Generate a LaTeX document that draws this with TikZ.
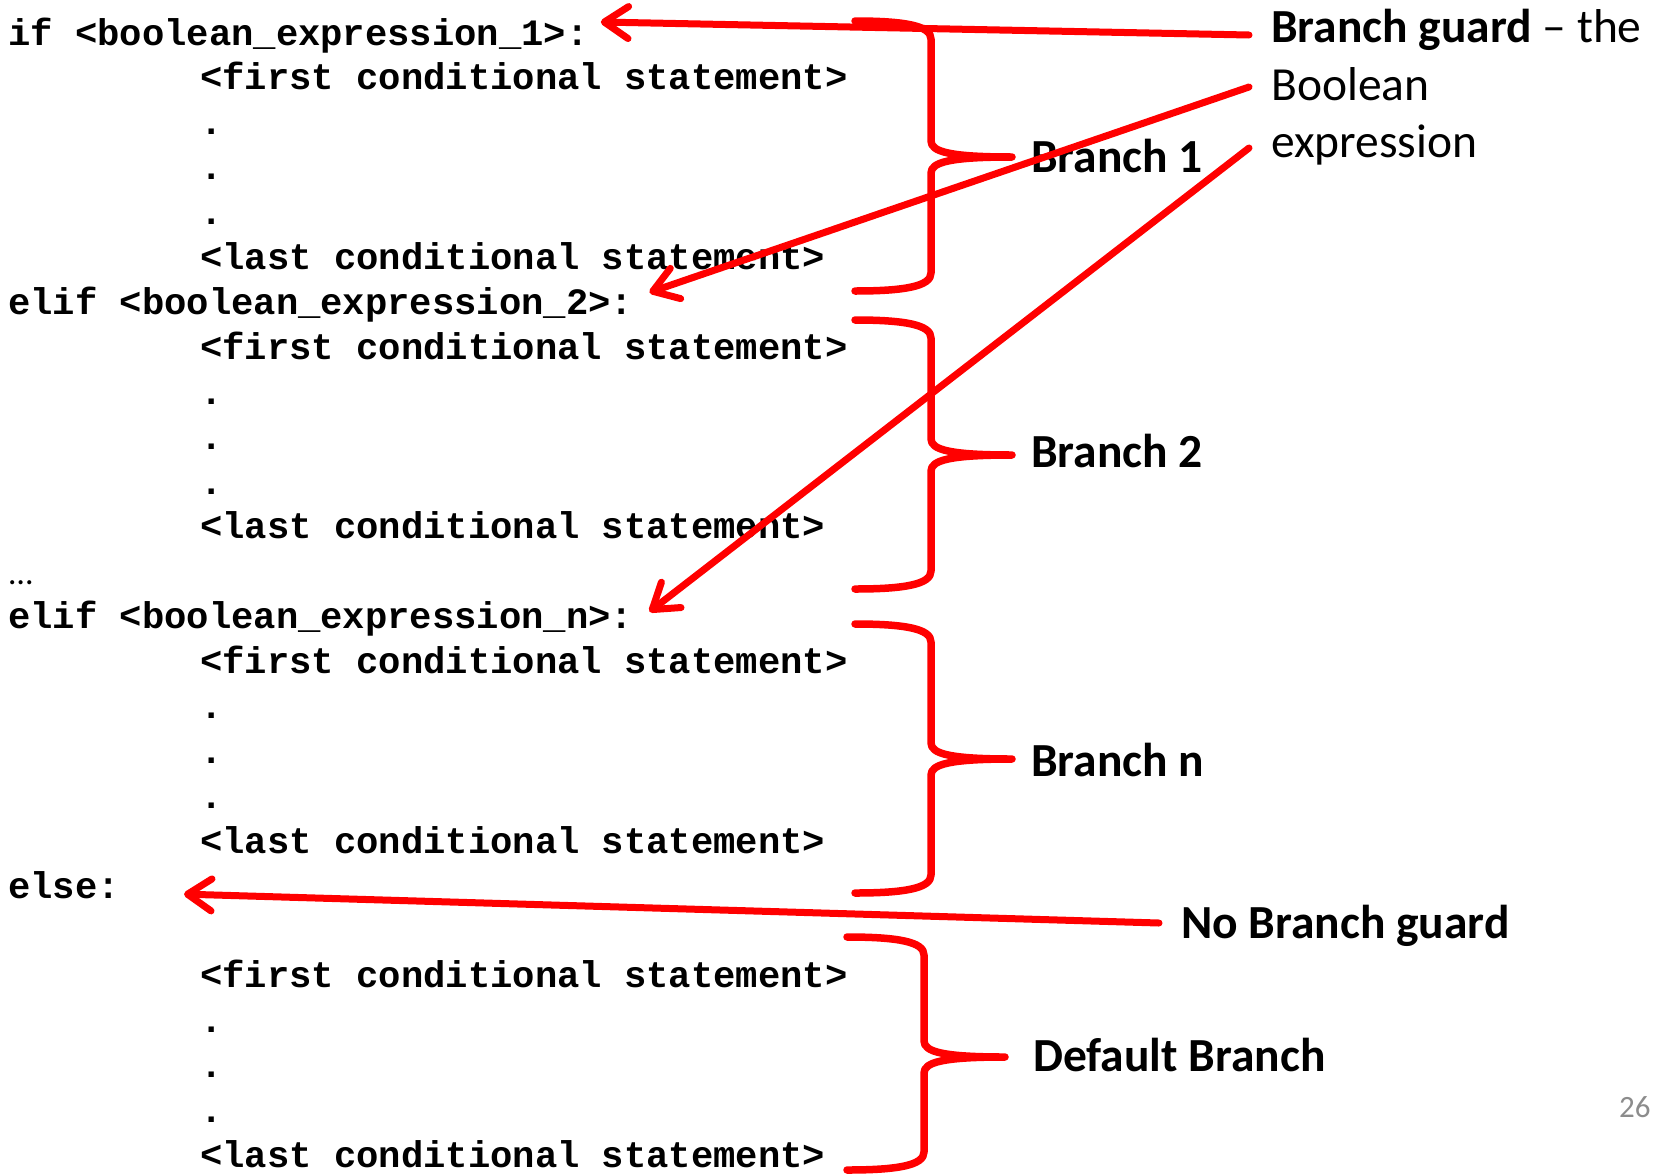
\documentclass[tikz,border=0pt]{standalone}
\usepackage{fontspec}
\usetikzlibrary{arrows.meta,calc}
\newfontfamily\codefont{Liberation Mono}
\newfontfamily\labfont{Carlito}
\definecolor{pagegray}{HTML}{8C8C8C}
\tikzset{
  x=1pt, y=-1pt,
  code/.style={anchor=base west, inner sep=0pt, font=\codefont\bfseries\fontsize{37.2}{40}\selectfont},
  lab/.style={anchor=base west, inner sep=0pt, font=\labfont\fontsize{47.5}{50}\selectfont},
  bracestroke/.style={draw=red, line width=7.5pt, line cap=round, line join=round},
  arr/.style={draw=red, line width=7pt, line cap=round, -{Straight Barb[length=24pt,width=32pt,round]}},
}
\newcommand\redbrace[6]{% xl xs xt yt ym yb
  \draw[bracestroke] (#1,#4) .. controls ({#2-25},#4) and (#2,{#4+5}) .. (#2,{#4+18})
    -- (#2,{#5-16}) .. controls (#2,{#5-5}) and ({#2+20},#5) .. (#3,#5)
    .. controls ({#2+20},#5) and (#2,{#5+5}) .. (#2,{#5+16})
    -- (#2,{#6-18}) .. controls (#2,{#6-5}) and ({#2-25},#6) .. (#1,#6);}
\begin{document}
\begin{tikzpicture}
\useasboundingbox (0,0) rectangle (1659,1173);
% code lines
\node[code] (if1)   at (8,45)       {if <boolean\_expression\_1>:};
\node[code] (f1)    at (200,89.9)   {<first conditional statement>};
\node[code] (d1a)   at (200,134.8)  {.};
\node[code] (d1b)   at (200,179.7)  {.};
\node[code] (d1c)   at (200,224.6)  {.};
\node[code] (last1) at (200,269.5)  {<last conditional statement>};
\node[code] (elif2) at (8,314.4)    {elif <boolean\_expression\_2>:};
\node[code] (f2)    at (200,359.3)  {<first conditional statement>};
\node[code] (d2a)   at (200,404.2)  {.};
\node[code] (d2b)   at (200,449.1)  {.};
\node[code] (d2c)   at (200,494)    {.};
\node[code] (last2) at (200,538.9)  {<last conditional statement>};
\node[anchor=base west, inner sep=0pt, font=\labfont\fontsize{34}{36}\selectfont] (ell) at (9,584) {…};
\node[code] (elifn) at (8,628.7)    {elif <boolean\_expression\_n>:};
\node[code] (fn)    at (200,673.6)  {<first conditional statement>};
\node[code] (dna)   at (200,718.5)  {.};
\node[code] (dnb)   at (200,763.4)  {.};
\node[code] (dnc)   at (200,808.3)  {.};
\node[code] (lastn) at (200,853.2)  {<last conditional statement>};
\node[code] (else)  at (8,898.1)    {else:};
\node[code] (fd)    at (200,987.9)  {<first conditional statement>};
\node[code] (dda)   at (200,1032.8) {.};
\node[code] (ddb)   at (200,1077.7) {.};
\node[code] (ddc)   at (200,1122.6) {.};
\node[code] (lastd) at (200,1167.5) {<last conditional statement>};
% braces
\redbrace{855}{931}{1012}{21}{157}{291}
\redbrace{855}{931}{1012}{320}{455}{589}
\redbrace{855}{931}{1012}{624}{759}{893}
\redbrace{847}{924}{1005}{937}{1057}{1170}
% labels
\node[lab] (b1) at (1031,172)  {\bfseries Branch 1};
\node[lab] (b2) at (1031,467)  {\bfseries Branch 2};
\node[lab] (bn) at (1031,776)  {\bfseries Branch n};
\node[lab] (bd) at (1033,1071) {\bfseries Default Branch};
\node[lab] (guard) at (1271,42)  {\textbf{Branch guard} – the};
\node[lab] (bool)  at (1271,100) {Boolean};
\node[lab] (expr)  at (1271,157) {expression};
\node[lab] (nog)   at (1181,938) {\bfseries No Branch guard};
\node[anchor=base west, inner sep=0pt, text=pagegray, font=\labfont\fontsize{31}{33}\selectfont] (pg) at (1619,1117) {26};
% arrows
\draw[arr] ($(guard.base west)+(-22,-7)$) -- ($(if1.base east)+(12,-23)$);
\draw[arr] ($(bool.base west)+(-22,-13)$) -- ($(elif2.base east)+(16,-22)$);
\draw[arr] ($(expr.base west)+(-22,-9)$) -- ($(elifn.base east)+(16,-17)$);
\draw[arr] ($(nog.base west)+(-22,-15)$) -- ($(else.base east)+(64,-4)$);
\end{tikzpicture}
\end{document}
